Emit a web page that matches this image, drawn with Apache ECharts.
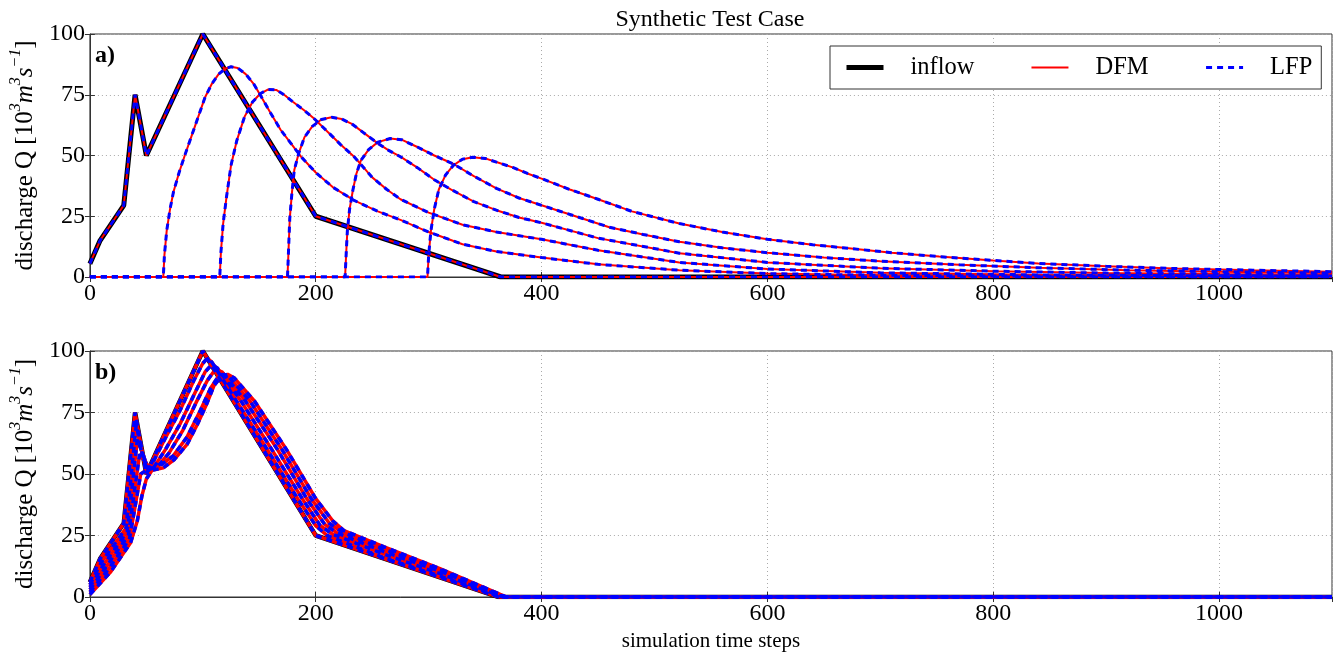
<!DOCTYPE html>
<html>
<head>
<meta charset="utf-8">
<script src="https://cdn.jsdelivr.net/npm/echarts@6/dist/echarts.min.js"></script>
<style>
html,body{margin:0;padding:0;background:#fff;}
#chart{width:1334px;height:655px;}
</style>
</head>
<body>
<div id="chart"></div>
<script>
// ---------- data ----------
var xTicks = [0, 200, 400, 600, 800, 1000];
var yTicks = [0, 25, 50, 75, 100];

// panel a) inflow hydrograph [time step, discharge]
var inflowA = [[0,5.5],[9,15],[30,29.5],[40,75],[50,50],[100,100],[200,25],[364,0],[1100,0]];
// panel a) routed hydrographs at successive stations (DFM / LFP coincide)
var a1 = [[0,0],[65,0],[66,9],[68,19],[71,28],[74,35],[79,43],[84,50],[90,58],[96,66],[102,74],[108,79.5],[114,83.5],[120,85.8],[125,86.5],[131,86],[138,83.5],[145,79.5],[152,74],[160,67.5],[169,60.5],[178,55],[187,49.5],[200,43],[215,37],[234,31.5],[255,27],[275,23.5],[300,18.5],[330,13.5],[360,10.5],[400,8],[450,5.2],[522,2.8],[600,1.4],[700,0.7],[850,0.3],[1100,0.1]];
var a2 = [[0,0],[115,0],[116,10],[118,22],[121,33],[125,46],[130,56],[137,66],[144,72],[151,75.5],[158,77.2],[165,77],[172,75],[180,72],[190,68.5],[199,65],[210,60],[222,54.5],[234,49.5],[250,41],[263,36],[275,32],[300,26.5],[330,21.5],[360,18.5],[400,15.5],[450,11],[522,6],[600,3.3],[700,1.7],[850,0.8],[1000,0.5],[1100,0.4]];
var a3 = [[0,0],[175,0],[176,12],[177,24],[179,35],[181,44],[185,51],[190,57.5],[197,62],[205,64.8],[214,65.7],[223,65],[232,63],[242,59.5],[255,55],[265,52],[275,49.5],[290,45],[305,40],[320,36],[340,31],[360,27.5],[380,24.5],[400,22.3],[450,16],[522,9.8],[600,6],[700,3.6],[800,2.4],[900,1.6],[1000,1.2],[1100,0.9]];
var a4 = [[0,0],[226,0],[227,10],[228,19],[230,28],[233,36],[236,42.5],[240,48],[247,52.5],[255,55.5],[266,57],[276,56.5],[290,53.5],[305,50],[322,46.5],[340,41.5],[360,36.5],[380,32.5],[400,29.5],[430,25],[460,20.5],[490,17.5],[522,14.5],[560,12],[600,10],[650,8],[700,6.5],[770,5],[840,3.8],[920,2.8],[1000,2.2],[1100,1.6]];
var a5 = [[0,0],[299,0],[300,9],[302,19],[305,28],[309,36],[315,42],[322,46],[330,48.5],[339,49.3],[350,48.8],[362,47],[375,45],[388,42.5],[400,40.5],[425,36],[450,32],[480,27],[522,22],[560,18.5],[600,15.5],[640,13.3],[672,11.8],[710,10],[752,8.4],[800,6.8],[840,5.6],[900,4.4],[960,3.5],[1030,2.8],[1100,2.2]];

// panel b) inflow hydrograph
var inflowB = [[0,6],[9,15.5],[30,30],[40,75],[50,50],[100,100],[200,25],[362,0],[1100,0]];
// panel b) routed hydrographs at successive stations
var b1 = [[0,5],[10,14],[32,28],[41,70],[46,59],[51,51],[55,54],[65,63],[80,76],[92,88],[100,95],[104,97],[108,95.5],[130,79.5],[157,60],[184,40],[200,29],[210,25],[260,16],[310,8.5],[364,0],[1100,0]];
var b2 = [[0,4],[12,13],[33,26.5],[42,64],[47,58],[52,51.5],[57,53],[67,60],[80,70.5],[92,82],[102,91.5],[108,94.5],[113,93],[134,79.5],[161,60],[188,40],[204,29],[215,25.5],[260,17.5],[310,9.5],[366,0],[1100,0]];
var b3 = [[0,3],[14,12],[34,25],[44,58],[49,55],[53,52],[60,53],[70,58.5],[82,67.5],[94,79],[104,88],[111,92.5],[117,91.5],[138,79.5],[166,60],[192,40],[208,29.5],[219,26],[260,18.5],[310,10.5],[367,0],[1100,0]];
var b4 = [[0,2],[16,11],[35,23.5],[45,50],[50,51.5],[56,52.5],[64,54],[74,57.5],[86,65],[98,76],[107,85],[115,90.5],[122,90],[142,79.5],[170,60],[196,40],[212,30],[223,26.5],[260,19.5],[310,11],[368,0],[1100,0]];
var b5 = [[0,1],[18,10],[36,22],[42,31],[46,41],[50,48],[55,51.5],[65,52.5],[75,56],[86,62],[95,70],[103,78],[110,86],[116,89.5],[122,90.5],[128,89],[146,79.5],[174,60],[200,40],[215,31],[225,27],[260,20.5],[310,11.5],[369,0],[1100,0]];

var routedA = [inflowA, a1, a2, a3, a4, a5];
var routedB = [inflowB, b1, b2, b3, b4, b5];

// ---------- chart ----------
var FONT = 'Liberation Serif';
var chart = echarts.init(document.getElementById('chart'), null, {renderer: 'canvas'});

var grids = [
  {left: 88, right: 2, top: 34, height: 243, show: true, borderColor: '#333', borderWidth: 1, backgroundColor: 'transparent'},
  {left: 88, right: 2, top: 351, height: 246, show: true, borderColor: '#333', borderWidth: 1, backgroundColor: 'transparent'}
];

var yName = '{t|discharge Q [10}{s|3}{i|m}{s|3}{i|s}{s|\u22121}{t|]}';
var nameStyle = {
  fontFamily: FONT, fontSize: 25, color: '#000',
  rich: {
    t: {fontFamily: FONT, fontSize: 25, color: '#000', verticalAlign: 'bottom', lineHeight: 30},
    i: {fontFamily: FONT, fontSize: 25, color: '#000', fontStyle: 'italic', verticalAlign: 'bottom', lineHeight: 30},
    s: {fontFamily: FONT, fontSize: 16, color: '#000', fontStyle: 'italic', verticalAlign: 'top', lineHeight: 30}
  }
};

function mkX(gi, withName) {
  return {
    type: 'value', gridIndex: gi, min: 0, max: 1100, interval: 200, position: 'bottom',
    axisLine: {show: true, lineStyle: {color: '#333', width: 1}},
    axisTick: {show: true, inside: true, length: 5, lineStyle: {color: '#333'}},
    axisLabel: {show: true, fontFamily: FONT, fontSize: 24, color: '#000', margin: 5, showMaxLabel: false,
      formatter: function (v) { return xTicks.indexOf(v) >= 0 ? String(v) : ''; }},
    splitLine: {show: true, lineStyle: {color: '#aaa', type: [1, 3], width: 1}},
    name: withName ? 'simulation time steps' : '', nameLocation: 'middle', nameGap: 34,
    nameTextStyle: {fontFamily: FONT, fontSize: 21, color: '#000'}
  };
}
function mkXTop(gi) {
  return {
    type: 'value', gridIndex: gi, min: 0, max: 1100, interval: 200, position: 'top',
    axisLine: {show: false}, axisLabel: {show: false}, splitLine: {show: false},
    axisTick: {show: true, inside: true, length: 5, lineStyle: {color: '#333'}}
  };
}
function mkY(gi) {
  return {
    type: 'value', gridIndex: gi, min: 0, max: 100, interval: 25, position: 'left',
    axisLine: {show: true, lineStyle: {color: '#333', width: 1}},
    axisTick: {show: true, inside: true, length: 5, lineStyle: {color: '#333'}},
    axisLabel: {show: true, fontFamily: FONT, fontSize: 24, color: '#000', margin: 5,
      formatter: function (v) { return yTicks.indexOf(v) >= 0 ? String(v) : ''; }},
    splitLine: {show: true, lineStyle: {color: '#aaa', type: [1, 3], width: 1}},
    name: yName, nameLocation: 'middle', nameRotate: 90, nameGap: 50, nameTextStyle: nameStyle
  };
}
function mkYRight(gi) {
  return {
    type: 'value', gridIndex: gi, min: 0, max: 100, interval: 25, position: 'right',
    axisLine: {show: false}, axisLabel: {show: false}, splitLine: {show: false},
    axisTick: {show: true, inside: true, length: 5, lineStyle: {color: '#333'}}
  };
}

var series = [];
var noSym = {color: 'rgba(0,0,0,0)', borderWidth: 0};
function addPanel(gi, inflow, routed, redW, blueW, blackW) {
  series.push({name: 'inflow', type: 'line', xAxisIndex: gi * 2, yAxisIndex: gi * 2, data: inflow,
    symbol: 'none', lineStyle: {color: '#000', width: blackW}, itemStyle: noSym, z: 2, animation: false});
  routed.forEach(function (d) {
    series.push({name: 'DFM', type: 'line', xAxisIndex: gi * 2, yAxisIndex: gi * 2, data: d,
      symbol: 'none', lineStyle: {color: '#ff0000', width: redW}, itemStyle: noSym, z: 3, animation: false});
  });
  routed.forEach(function (d) {
    series.push({name: 'LFP', type: 'line', xAxisIndex: gi * 2, yAxisIndex: gi * 2, data: d,
      symbol: 'none', lineStyle: {color: '#0000ff', width: blueW, type: [6, 5]}, itemStyle: noSym, z: 4, animation: false});
  });
}
addPanel(0, inflowA, routedA, 2, 3, 5);
addPanel(1, inflowB, routedB, 3.5, 3.5, 4.5);

var option = {
  backgroundColor: '#fff',
  animation: false,
  grid: grids,
  xAxis: [mkX(0, false), mkXTop(0), mkX(1, true), mkXTop(1)],
  yAxis: [mkY(0), mkYRight(0), mkY(1), mkYRight(1)],
  legend: {
    data: ['inflow', 'DFM', 'LFP'], left: 830, top: 46, orient: 'horizontal',
    itemWidth: 37, itemHeight: 14, itemGap: 56,
    padding: [9, 9, 9, 14], borderColor: '#333', borderWidth: 1, borderRadius: 0,
    backgroundColor: '#fff',
    itemStyle: {opacity: 0, borderWidth: 0},
    lineStyle: {width: 'inherit'},
    textStyle: {fontFamily: FONT, fontSize: 24.5, color: '#000', padding: [0, 0, 0, 22]}
  },
  graphic: [
    {type: 'text', x: 710, y: 8, style: {text: 'Synthetic Test Case', font: '24px "Liberation Serif"', fill: '#000', textAlign: 'center'}},
    {type: 'text', x: 95, y: 44, style: {text: 'a)', font: 'bold 24px "Liberation Serif"', fill: '#000'}},
    {type: 'text', x: 95, y: 361, style: {text: 'b)', font: 'bold 24px "Liberation Serif"', fill: '#000'}}
  ],
  series: series
};
chart.setOption(option);
</script>
</body>
</html>
